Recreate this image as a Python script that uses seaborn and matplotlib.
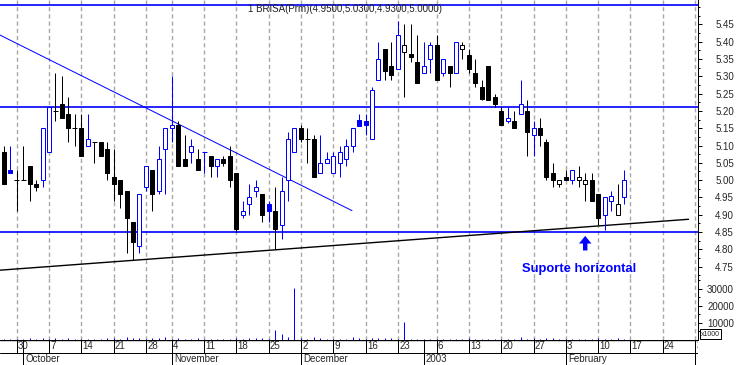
import numpy as np
import pandas as pd
import matplotlib
matplotlib.use('agg')
import matplotlib.pyplot as plt
import seaborn as sns

#####################################################
# DATA  (x = trading day index, 0 = 30 Sep 2002)
first_day = -2
opens  = [5.08, 5.03, 5.00, 5.00, 5.04, 4.99, 5.00, 5.08, 5.20, 5.22, 5.19, 5.15, 5.15, 5.10, 5.11, 5.11,
          5.09, 5.01, 5.00, 4.97, 4.88, 4.81, 4.98, 5.03, 4.97, 5.09, 5.15, 5.16, 5.06, 5.08, 5.06, 5.08,
          5.07, 5.04, 5.06, 5.07, 5.02, 4.90, 4.93, 4.97, 4.96, 4.93, 4.91, 4.87, 5.00, 5.08, 5.15, 5.12,
          5.12, 5.02, 5.05, 5.02, 5.05, 5.06, 5.10, 5.175, 5.17, 5.12, 5.29, 5.38, 5.33, 5.32, 5.37, 5.365,
          5.34, 5.31, 5.35, 5.39, 5.31, 5.33, 5.31, 5.38, 5.36, 5.31, 5.27, 5.33, 5.24, 5.20, 5.17, 5.17,
          5.19, 5.20, 5.13, 5.15, 5.11, 5.02, 4.99, 5.01, 5.00, 5.00, 4.99, 5.00, 4.96, 4.90, 4.94, 4.90, 4.95]
highs  = [5.10, 5.10, 5.03, 5.10, 5.04, 5.00, 5.15, 5.21, 5.31, 5.30, 5.24, 5.19, 5.19, 5.19, 5.11, 5.11,
          5.11, 5.09, 5.00, 4.97, 4.88, 4.96, 5.04, 5.03, 5.10, 5.15, 5.30, 5.17, 5.13, 5.12, 5.09, 5.08,
          5.07, 5.06, 5.07, 5.10, 5.02, 4.94, 4.99, 5.00, 4.96, 4.94, 4.98, 5.01, 5.14, 5.15, 5.16, 5.15,
          5.13, 5.13, 5.08, 5.08, 5.10, 5.12, 5.15, 5.19, 5.19, 5.27, 5.40, 5.38, 5.40, 5.46, 5.45, 5.45,
          5.42, 5.40, 5.40, 5.42, 5.35, 5.33, 5.40, 5.40, 5.38, 5.35, 5.29, 5.33, 5.25, 5.21, 5.21, 5.20,
          5.29, 5.23, 5.17, 5.18, 5.12, 5.05, 5.00, 5.03, 5.03, 5.04, 5.02, 5.02, 4.96, 4.95, 4.97, 4.99, 5.03]
lows   = [4.99, 5.02, 4.91, 5.00, 4.94, 4.97, 4.98, 5.08, 5.17, 5.18, 5.11, 5.10, 5.07, 5.10, 5.05, 5.07,
          5.00, 4.94, 4.92, 4.79, 4.77, 4.79, 4.97, 4.91, 4.96, 4.96, 5.11, 5.04, 5.04, 5.05, 5.03, 5.02,
          5.01, 5.01, 5.04, 4.98, 4.85, 4.89, 4.90, 4.95, 4.88, 4.88, 4.80, 4.83, 4.94, 5.08, 5.11, 5.05,
          5.01, 5.02, 5.05, 5.02, 5.01, 5.04, 5.08, 5.155, 5.13, 5.12, 5.29, 5.29, 5.29, 5.32, 5.24, 5.34,
          5.28, 5.31, 5.31, 5.29, 5.30, 5.27, 5.31, 5.35, 5.31, 5.27, 5.23, 5.23, 5.21, 5.16, 5.165, 5.15,
          5.19, 5.07, 5.07, 5.10, 5.00, 4.98, 4.98, 5.00, 4.99, 4.98, 4.94, 4.94, 4.87, 4.855, 4.91, 4.90, 4.93]
closes = [4.99, 5.02, 5.00, 5.00, 4.99, 4.98, 5.15, 5.21, 5.20, 5.18, 5.15, 5.15, 5.07, 5.12, 5.11, 5.07,
          5.02, 4.99, 4.96, 4.89, 4.82, 4.96, 5.04, 4.96, 5.06, 5.15, 5.16, 5.04, 5.04, 5.10, 5.03, 5.08,
          5.04, 5.06, 5.05, 5.00, 4.86, 4.91, 4.95, 4.98, 4.90, 4.91, 4.86, 4.97, 5.12, 5.15, 5.12, 5.12,
          5.01, 5.05, 5.06, 5.07, 5.08, 5.10, 5.15, 5.155, 5.16, 5.26, 5.35, 5.315, 5.305, 5.42, 5.39, 5.355,
          5.28, 5.33, 5.39, 5.29, 5.35, 5.31, 5.40, 5.39, 5.32, 5.28, 5.235, 5.23, 5.22, 5.16, 5.18, 5.15,
          5.22, 5.14, 5.15, 5.13, 5.01, 5.00, 5.00, 5.00, 5.03, 5.01, 5.00, 4.94, 4.89, 4.95, 4.955, 4.93, 5.00]
volumes = [300, 600, 400, 300, 1200, 400, 1200, 500, 900, 400, 900, 800, 400, 500, 800, 400,
           900, 1100, 500, 1700, 1200, 1200, 500, 900, 900, 1700, 500, 900, 800, 800, 900, 400,
           700, 800, 400, 500, 1200, 500, 900, 900, 1200, 500, 5900, 3500, 2000, 30400, 1000, 500,
           1700, 900, 600, 500, 400, 700, 1500, 1200, 500, 1200, 1000, 1000, 1000, 600, 10800, 400,
           600, 700, 700, 500, 600, 800, 600, 500, 1200, 400, 600, 800, 700, 400, 500, 500,
           1800, 600, 1200, 500, 1200, 1200, 400, 500, 800, 700, 700, 700, 1200, 600, 400, 1200, 600]

week_days = [0, 5, 10, 15, 20, 24, 29, 34, 39, 44, 49, 54, 59, 65, 70, 75, 80, 85, 90, 95, 100, 105]
week_labels = ["30", "7", "14", "21", "28", "4", "11", "18", "25", "2", "9", "16", "23",
               "6", "13", "20", "27", "3", "10", "17", "24", "3"]
month_days = [1, 24, 44, 63, 85, 105]
month_labels = ["October", "November", "December", "2003", "February", "March"]

price_ticks = np.round(np.arange(4.75, 5.451, 0.05), 2)
volume_ticks = [10000, 20000, 30000]

top_level = 5.505
resist_level = 5.21
support_level = 4.85
down_trend_x = [-2.6, 51.9]
down_trend_y = [5.419, 4.912]
up_trend_x = [-2.6, 104.0]
up_trend_y = [4.740, 4.887]

title = "1 BRISA(Prm)(4.9500,5.0300,4.9300,5.0000)"
note = "Suporte horizontal"
note_pos = (87.0, 4.743)
arrow_x = 88.0
arrow_y = [4.797, 4.839]

#####################################################
BLUE = '#0000ff'
GRID = '#a8a8a8'
PX = 0.72  # one pixel in points

sns.set_style("white")
plt.rcParams['font.family'] = ['Liberation Sans', 'DejaVu Sans']

df = pd.DataFrame({"day": np.arange(first_day, first_day + len(opens)),
                   "open": opens, "high": highs, "low": lows, "close": closes, "vol": volumes})
df["up_day"] = df["close"] > df["close"].shift(1)
df["color"] = np.where(df["up_day"], BLUE, "black")
df["hollow"] = df["close"] > df["open"]

fig = plt.figure(figsize=(7.38, 3.65), dpi=100)
W, H = 738.0, 365.0
xmin, xmax = -2.585, 105.46
ax = fig.add_axes([0, 1 - 278 / H, 698 / W, 278 / H])
ax_v = fig.add_axes([0, 25 / H, 698 / W, 62 / H])
ax_d = fig.add_axes([0, 0, 698 / W, 25 / H])

for a in (ax, ax_v, ax_d):
	a.set_xlim(xmin, xmax)
	a.set_facecolor('white')
	for s in a.spines.values():
		s.set_visible(False)
	a.set_xticks([])

ax.set_ylim(5.5202 - 278 / 346.3, 5.5202)
ax_v.set_ylim(0, 36470)
ax_d.set_ylim(0, 25)
ax_d.set_yticks([])

# dashed week gridlines
for d in week_days:
	for a in (ax, ax_v):
		a.axvline(d, color=GRID, lw=1.0, ls=(0, (3, 2.2)), zorder=1)

# horizontal levels and trend lines
for lvl in (top_level, resist_level, support_level):
	ax.axhline(lvl, color=BLUE, lw=1.2, zorder=2)
sns.lineplot(x=down_trend_x, y=down_trend_y, ax=ax, color=BLUE, lw=PX, zorder=2)
sns.lineplot(x=up_trend_x, y=up_trend_y, ax=ax, color='black', lw=1.0, zorder=2)

# candles
ax.vlines(df["day"], df["low"], df["high"], colors=df["color"], lw=PX, zorder=3)
body = df[df["open"] != df["close"]]
ax.bar(body["day"], (body["close"] - body["open"]).abs(), bottom=body[["open", "close"]].min(axis=1),
       width=0.62, color=np.where(body["hollow"], 'white', body["color"]),
       edgecolor=body["color"], linewidth=PX, zorder=4)
doji = df[df["open"] == df["close"]]
ax.hlines(doji["close"], doji["day"] - 0.38, doji["day"] + 0.38, colors=doji["color"], lw=PX, zorder=4)

# annotation
ax.text(note_pos[0], note_pos[1], note, color=BLUE, fontsize=9.4, fontweight='bold',
        ha='center', va='center')
ax.annotate('', xy=(arrow_x, arrow_y[1]), xytext=(arrow_x, arrow_y[0]),
            arrowprops=dict(width=3.2, headwidth=9, headlength=5.5, shrink=0,
                            color=BLUE, lw=0))
fig.text(248 / W, 1 - 9 / H, title, fontsize=7, color='#202020', ha='left', va='center')

# volume
ax_v.vlines(df["day"], 0, df["vol"], colors=BLUE, lw=PX, zorder=3)

# right axes
for a, ticks, minor, fmt in ((ax, price_ticks, np.arange(4.725, 5.5, 0.025), "{:.2f}"),
                             (ax_v, volume_ticks, [5000, 15000, 25000, 35000], "{:d}")):
	a.spines['right'].set_visible(True)
	a.spines['right'].set_linewidth(PX)
	a.spines['right'].set_color('black')
	a.yaxis.tick_right()
	a.set_yticks(ticks)
	a.set_yticklabels([fmt.format(t) for t in ticks])
	a.set_yticks(minor, minor=True)
	a.tick_params(axis='y', which='major', direction='out', length=4 * PX, width=PX,
	              color='black', labelsize=7, pad=23)
	a.tick_params(axis='y', which='minor', direction='out', length=2 * PX, width=PX, color='black')
	for lab in a.get_yticklabels():
		lab.set_horizontalalignment('right')

fig.text(701 / W, 1 - 334 / H, "x1000", fontsize=5, ha='left', va='center',
         bbox=dict(boxstyle='square,pad=0.15', fc='white', ec='black', lw=PX))

# date axis rows
ax_d.axhline(25, color='black', lw=PX * 1.4)
ax_d.axhline(12.5, color='black', lw=PX)
ax_d.vlines(week_days, 12.5, 25, colors='black', lw=PX)
ax_d.vlines(month_days, 0, 25, colors='black', lw=PX)
for d, lab in zip(week_days, week_labels):
	ax_d.text(d + 0.2, 18.7, lab, fontsize=7, ha='left', va='center', clip_on=True)
for d, lab in zip(month_days, month_labels):
	ax_d.text(d + 0.35, 6.2, lab, fontsize=7, ha='left', va='center', clip_on=True)

fig.savefig("out.png", dpi=100)
